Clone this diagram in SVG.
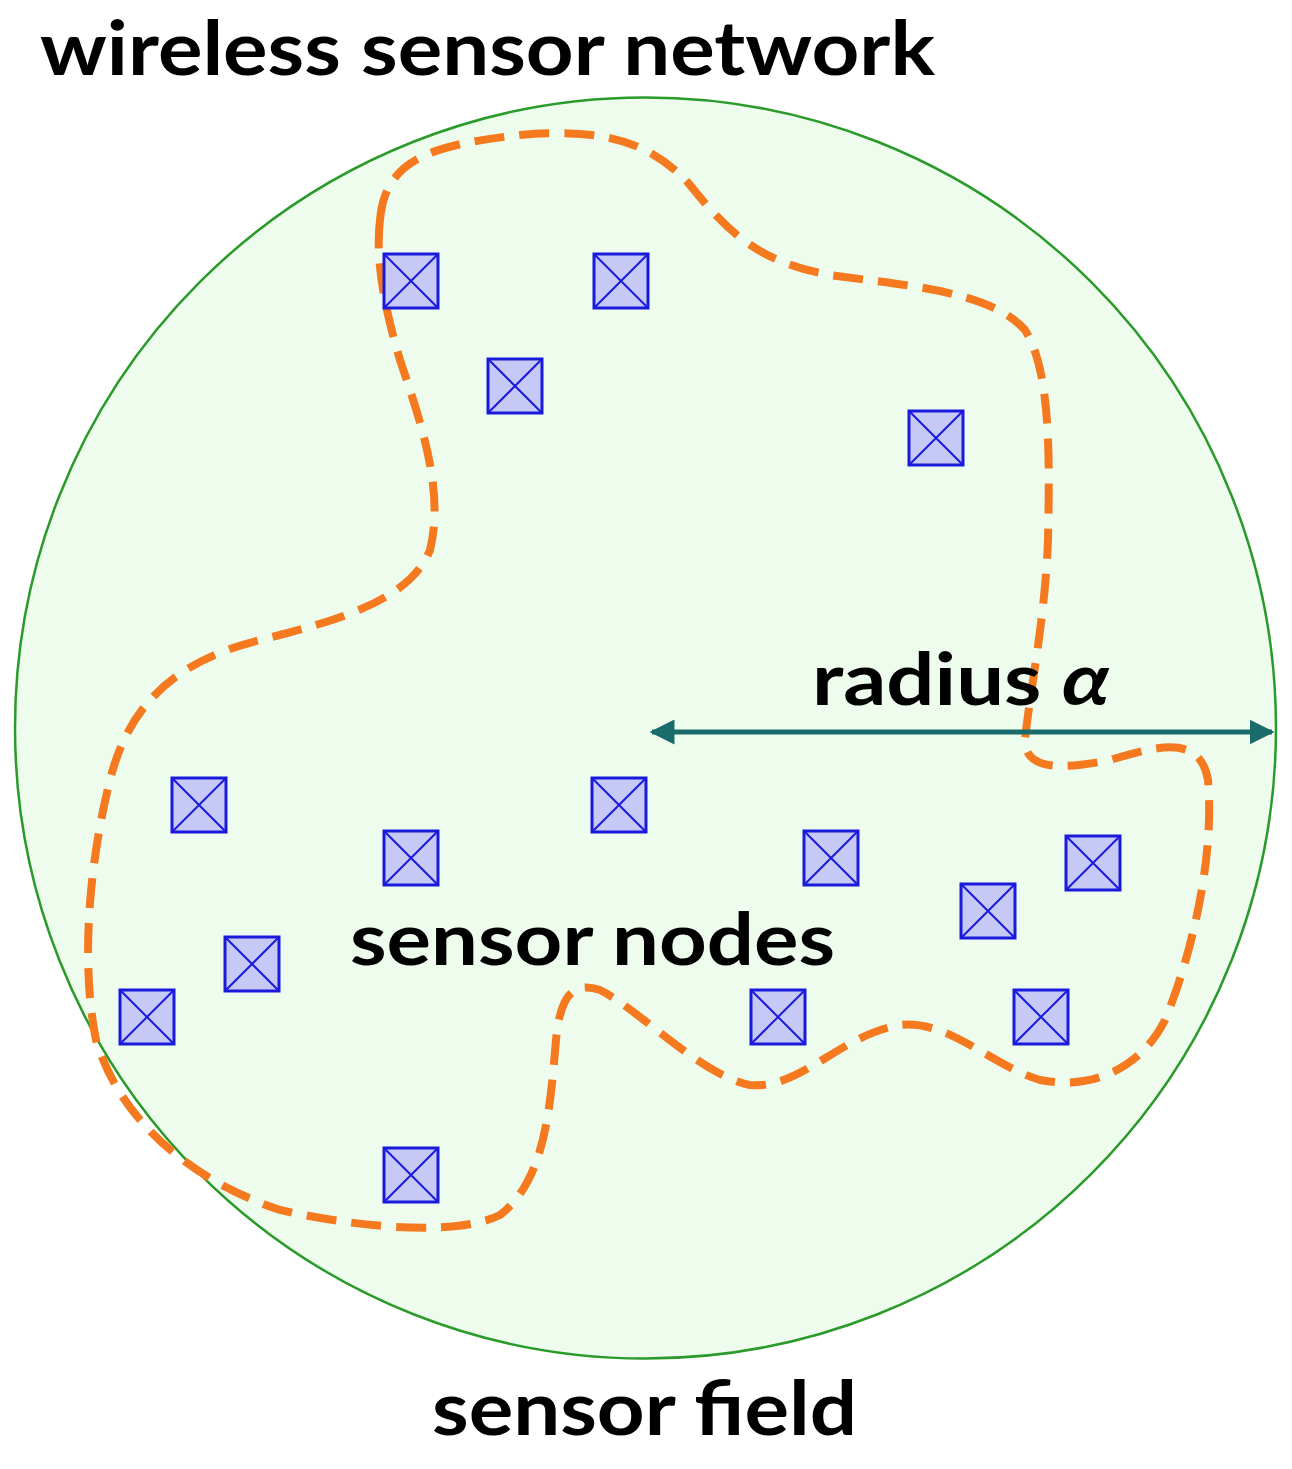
<svg xmlns="http://www.w3.org/2000/svg" width="1292" height="1469" viewBox="0 0 1292 1469">
<style>
.t{font-family:Lato,"Open Sans","Liberation Sans",sans-serif;font-weight:bold;fill:#000}
.n rect{fill:#c6c8f5;stroke:#1a1add;stroke-width:3}
.n path{stroke:#1a1add;stroke-width:2;fill:none}
</style>
<defs>
<marker id="ah" viewBox="0 0 10 10" refX="9" refY="5" markerWidth="5" markerHeight="5" orient="auto-start-reverse" markerUnits="strokeWidth"><path d="M0,0 L10,5 L0,10 z" fill="#1a6b6b"/></marker>
<g id="nd" class="n"><rect x="-27" y="-27" width="54" height="54"/><path d="M-27,-27 L27,27 M27,-27 L-27,27"/></g>
</defs>
<rect width="1292" height="1469" fill="#fff"/>
<g id="field"><circle cx="645.5" cy="728" r="630.5" fill="#eefcee" stroke="#2a9a2a" stroke-width="2.5"/></g>
<g id="region"><path d="M380,220 C385,160 430,145 520,135 C600,128 650,140 690,185 C730,235 760,262 830,275 C900,285 990,290 1025,330 C1050,370 1050,450 1048,540 C1045,620 1030,690 1025,740 C1025,770 1060,770 1110,760 C1160,745 1200,735 1208,780 C1215,860 1190,960 1165,1020 C1140,1070 1090,1090 1040,1080 C990,1065 950,1020 900,1025 C840,1035 800,1090 750,1085 C700,1075 640,1010 600,990 C570,980 560,1000 556,1040 C550,1110 545,1180 500,1215 C460,1235 370,1230 280,1210 C190,1180 120,1120 96,1040 C80,960 90,860 110,780 C130,700 180,660 260,640 C340,620 410,600 430,550 C445,490 420,420 400,360 C385,310 375,260 380,220 Z" fill="none" stroke="#f57a1f" stroke-width="8" stroke-dasharray="30,15"/></g>
<g id="nodes">
<use href="#nd" x="411" y="281"/><use href="#nd" x="621" y="281"/><use href="#nd" x="515" y="386"/><use href="#nd" x="936" y="438"/>
<use href="#nd" x="199" y="805"/><use href="#nd" x="619" y="805"/><use href="#nd" x="411" y="858"/><use href="#nd" x="831" y="858"/>
<use href="#nd" x="1093" y="863"/><use href="#nd" x="988" y="911"/><use href="#nd" x="252" y="964"/><use href="#nd" x="147" y="1017"/>
<use href="#nd" x="778" y="1017"/><use href="#nd" x="1041" y="1017"/><use href="#nd" x="411" y="1175"/>
</g>
<g id="connectors"><line x1="652" y1="732" x2="1272" y2="732" stroke="#1a6b6b" stroke-width="5" marker-start="url(#ah)" marker-end="url(#ah)"/></g>
<g id="labels">
<text class="t" x="40" y="75" font-size="74" textLength="895" lengthAdjust="spacingAndGlyphs">wireless sensor network</text>
<text class="t" x="812" y="705" font-size="72" textLength="298" lengthAdjust="spacingAndGlyphs">radius <tspan font-style="italic">α</tspan></text>
<text class="t" x="350" y="965" font-size="72" textLength="485" lengthAdjust="spacingAndGlyphs">sensor nodes</text>
<text class="t" x="432" y="1435" font-size="74" textLength="425" lengthAdjust="spacingAndGlyphs">sensor field</text>
</g>
</svg>
